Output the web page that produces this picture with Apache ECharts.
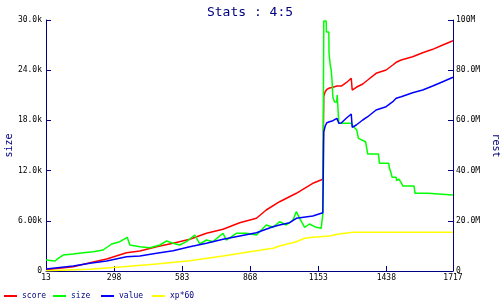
<!DOCTYPE html>
<html><head><meta charset="utf-8">
<script src="https://cdn.jsdelivr.net/npm/echarts@6/dist/echarts.min.js"></script>
<style>html,body{margin:0;padding:0;background:#fff}#c{width:500px;height:300px}</style>
</head><body><div id="c"></div>
<script>
// x: iteration index; score/value/xp in millions (right axis "rest"); size on left axis
const seriesNames = ['score', 'size', 'value', 'xp*60'];
const leftTickLabels = ['0', '6.00k', '12.0k', '18.0k', '24.0k', '30.0k'];
const rightTickLabels = ['0', '20.0M', '40.0M', '60.0M', '80.0M', '100M'];

const scoreData = [[13,0.5],[127,1.71],[197,3.31],[267,4.78],[350,7.29],[406,7.97],[476,9.68],[545,11.04],[615,12.63],[685,15.02],[754,16.61],[824,19.24],[894,21.0],[935,24.3],[991,27.6],[1061,30.96],[1130,34.94],[1172,36.53],[1176,69.72],[1182,71.43],[1189,72.39],[1200,72.91],[1214,73.19],[1231,73.7],[1239,73.19],[1249,73.7],[1270,75.02],[1291,76.77],[1295,72.11],[1312,73.19],[1339,74.5],[1360,76.09],[1395,78.76],[1437,80.08],[1465,82.07],[1479,83.15],[1500,84.06],[1548,85.38],[1590,86.97],[1632,88.32],[1674,90.04],[1717,91.75]];

const sizeData = [[13,1315],[51,1195],[64,1518],[85,1912],[127,2032],[169,2187],[211,2307],[252,2510],[288,3227],[322,3502],[353,4028],[364,3108],[406,2904],[448,2785],[490,3108],[518,3586],[545,3311],[573,3108],[601,3502],[636,4303],[657,3227],[685,3705],[712,3502],[754,4506],[768,3705],[810,4506],[852,4506],[894,4303],[935,5498],[963,5223],[991,5892],[1019,5498],[1047,6096],[1061,7088],[1075,6299],[1096,5223],[1116,5617],[1144,5223],[1165,5104],[1172,6813],[1176,29880],[1186,29880],[1187,28565],[1197,28565],[1198,26055],[1203,24621],[1207,24024],[1211,22589],[1214,20796],[1221,20199],[1230,20199],[1232,21036],[1238,21036],[1239,17653],[1291,17653],[1298,17330],[1314,16852],[1321,15860],[1351,15454],[1360,13984],[1405,13984],[1409,12872],[1448,12872],[1451,12275],[1458,11677],[1462,11199],[1479,11199],[1481,10793],[1484,10996],[1490,10996],[1500,10554],[1507,10159],[1554,10159],[1558,9287],[1611,9287],[1614,9084],[1717,9084]];

const valueData = [[13,0.8],[127,1.99],[197,3.07],[267,3.98],[350,5.70],[406,5.98],[476,7.05],[545,8.09],[615,9.68],[685,11.04],[754,12.63],[824,13.94],[894,15.26],[963,17.65],[991,18.33],[1033,19.24],[1061,21.0],[1130,21.91],[1172,23.23],[1176,55.5],[1182,57.77],[1189,59.08],[1200,59.48],[1214,59.88],[1231,60.8],[1239,58.84],[1249,58.96],[1270,60.84],[1291,62.55],[1295,57.25],[1312,58.17],[1339,60.16],[1360,61.47],[1395,64.14],[1437,65.46],[1465,67.45],[1479,68.8],[1500,69.44],[1548,71.03],[1590,72.11],[1632,73.7],[1674,75.42],[1717,77.17]];

const xpData = [[13,0.1],[197,0.68],[336,1.71],[476,2.79],[615,4.10],[754,5.98],[894,8.09],[963,9.04],[991,9.96],[1061,11.67],[1096,13.03],[1130,13.43],[1200,13.94],[1238,14.74],[1298,15.42],[1717,15.42]];

const colors = ['#ff0000', '#00ff00', '#0000ff', '#ffff00'];
const NAVY = '#000080';
const MONO = '"DejaVu Sans Mono", "Liberation Mono", monospace';
const legendLefts = [4, 53, 101, 152];

const chart = echarts.init(document.getElementById('c'), null, {renderer: 'canvas'});
const axisCommon = {
  axisLine: {show: true, lineStyle: {color: NAVY, width: 1}},
  axisTick: {show: true, inside: true, length: 5, lineStyle: {color: NAVY, width: 1}},
  splitLine: {show: false},
  nameMoveOverlap: false,
};
chart.setOption({
  animation: false,
  color: colors,
  title: {
    text: 'Stats : 4:5', left: 'center', top: 1,
    textStyle: {color: NAVY, fontFamily: MONO, fontSize: 13, fontWeight: 'normal'}
  },
  grid: {left: 46, right: 47, top: 20, bottom: 29, containLabel: false, outerBoundsMode: 'none'},
  legend: seriesNames.map((n, i) => ({
    data: [n], left: legendLefts[i], bottom: 0, icon: 'rect', itemWidth: 13, itemHeight: 2,
    padding: [0, 0, 0, 0],
    textStyle: {color: NAVY, fontFamily: MONO, fontSize: 8}
  })),
  xAxis: Object.assign({
    type: 'value', min: 13, max: 1717, interval: 285,
    axisLabel: {color: '#000', fontFamily: MONO, fontSize: 8, margin: 3, showMaxLabel: true, showMinLabel: true,
      formatter: v => String(Math.round(v))}
  }, axisCommon),
  yAxis: [
    Object.assign({
      type: 'value', position: 'left', min: 0, max: 30000, interval: 6000,
      name: 'size', nameLocation: 'middle', nameGap: 32,
      nameTextStyle: {color: NAVY, fontFamily: MONO, fontSize: 10},
      axisLabel: {color: '#000', fontFamily: MONO, fontSize: 8, margin: 4,
        formatter: v => leftTickLabels[Math.round(v / 6000)]}
    }, axisCommon),
    Object.assign({
      type: 'value', position: 'right', min: 0, max: 100, interval: 20,
      name: 'rest', nameLocation: 'middle', nameGap: 38, nameRotate: -90,
      nameTextStyle: {color: NAVY, fontFamily: MONO, fontSize: 10},
      axisLabel: {color: '#000', fontFamily: MONO, fontSize: 8, margin: 3,
        formatter: v => rightTickLabels[Math.round(v / 20)]}
    }, axisCommon)
  ],
  series: [
    {name: 'score', type: 'line', yAxisIndex: 1, data: scoreData, showSymbol: false, symbol: 'none', lineStyle: {width: 1.5}},
    {name: 'size', type: 'line', yAxisIndex: 0, data: sizeData, showSymbol: false, symbol: 'none', lineStyle: {width: 1.5}},
    {name: 'value', type: 'line', yAxisIndex: 1, data: valueData, showSymbol: false, symbol: 'none', lineStyle: {width: 1.5}},
    {name: 'xp*60', type: 'line', yAxisIndex: 1, data: xpData, showSymbol: false, symbol: 'none', lineStyle: {width: 1.5}}
  ]
});
</script></body></html>
